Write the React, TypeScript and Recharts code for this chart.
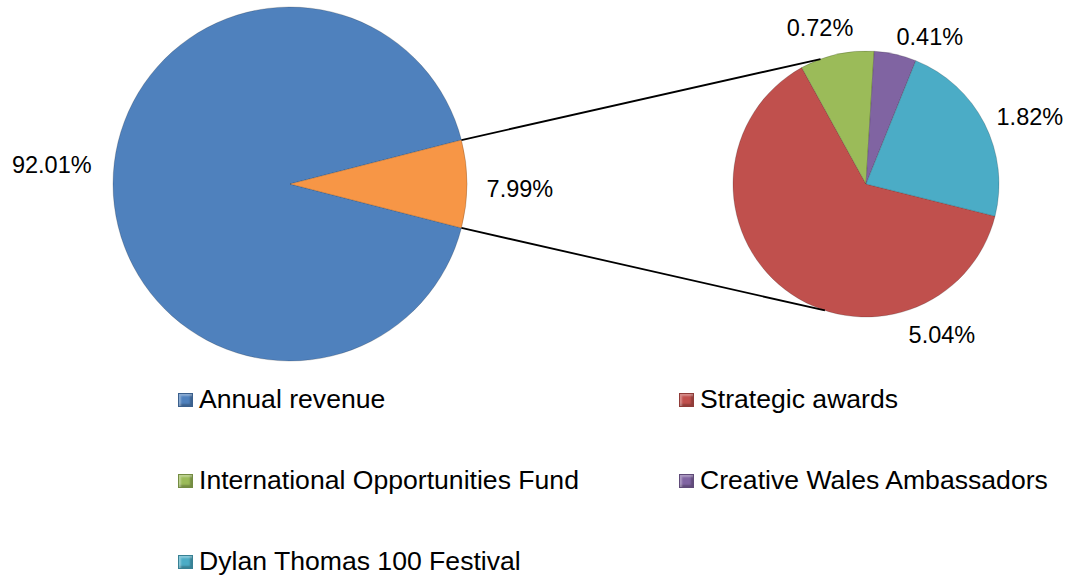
import React from "react";
import { PieChart, Pie, Cell, Legend } from "recharts";

// main pie
const MAIN_NAMES = ["Annual revenue", "Other"];
const MAIN_VALUES = [92.01, 7.99];
const MAIN_COLORS = ["#4F81BD", "#F79646"];

// secondary pie (breakdown of "Other")
const SUB_NAMES = ["Strategic awards", "International Opportunities Fund", "Creative Wales Ambassadors", "Dylan Thomas 100 Festival"];
const SUB_VALUES = [5.04, 0.72, 0.41, 1.82];
const SUB_COLORS = ["#C0504D", "#9BBB59", "#8064A2", "#4BACC6"];

const LEGEND_NAMES = ["Annual revenue", ...SUB_NAMES];
const LEGEND_COLORS = ["#4F81BD", ...SUB_COLORS];

// label placement around each pie: [angle deg, distance from centre]
const MAIN_LABEL_POS = [[175.4, 239], [-1.2, 230]];
const SUB_LABEL_POS = [[-63.3, 169], [106.4, 163], [66.5, 160], [22.2, 177]];

const FONT = "'Liberation Sans', Arial, sans-serif";
const RAD = Math.PI / 180;

const MAIN = { cx: 290, cy: 184, r: 177 };
const SUB = { cx: 866, cy: 184, r: 133, start: -14 };

const mainData = MAIN_NAMES.map((name, i) => ({ name, value: MAIN_VALUES[i] }));
const subData = SUB_NAMES.map((name, i) => ({ name, value: SUB_VALUES[i] }));

const otherHalf = (MAIN_VALUES[1] / MAIN_VALUES.reduce((a, b) => a + b, 0)) * 180;

const makeLabel = (pos: number[][], cx: number, cy: number) => (props: any) => {
  const [ang, dist] = pos[props.index];
  const x = cx + dist * Math.cos(ang * RAD);
  const y = cy - dist * Math.sin(ang * RAD);
  return (
    <text x={x} y={y} textAnchor="middle" dominantBaseline="central" fontSize={23.5} fontFamily={FONT} fill="#000">
      {props.value.toFixed(2)}%
    </text>
  );
};

function LegendBlock() {
  return (
    <div style={{ position: "relative", width: 1068, height: 200, fontFamily: FONT, fontSize: 26.6, color: "#000" }}>
      {LEGEND_NAMES.map((name, i) => {
        const col = i % 2;
        const row = Math.floor(i / 2);
        const left = col === 0 ? 178 : 679;
        const top = row * 81;
        return (
          <div key={name} style={{ position: "absolute", left, top, lineHeight: "30px", whiteSpace: "nowrap", display: "flex", alignItems: "center" }}>
            <span
              style={{
                display: "inline-block",
                width: 13,
                height: 12,
                marginRight: 6,
                marginTop: 1,
                background: LEGEND_COLORS[i],
                border: "1px solid rgba(0,0,0,0.25)",
                boxShadow: "inset 2px 2px 2px rgba(255,255,255,0.35), inset -2px -2px 2px rgba(0,0,0,0.25)",
              }}
            />
            {name}
          </div>
        );
      })}
    </div>
  );
}

export default function App() {
  const a1 = otherHalf * RAD;
  const p1 = { x: MAIN.cx + MAIN.r * Math.cos(a1), y: MAIN.cy - MAIN.r * Math.sin(a1) };
  const p2 = { x: MAIN.cx + MAIN.r * Math.cos(a1), y: MAIN.cy + MAIN.r * Math.sin(a1) };
  const q1 = { x: SUB.cx + SUB.r * Math.cos(110 * RAD), y: SUB.cy - SUB.r * Math.sin(110 * RAD) };
  const q2 = { x: SUB.cx + SUB.r * Math.cos(-108 * RAD), y: SUB.cy - SUB.r * Math.sin(-108 * RAD) };

  return (
    <div style={{ position: "absolute", left: 0, top: 0, width: 1068, height: 579, background: "#fff" }}>
      <PieChart width={1068} height={579} margin={{ top: 0, right: 0, bottom: 0, left: 0 }}>
        <Pie
          data={mainData}
          dataKey="value"
          nameKey="name"
          cx={MAIN.cx}
          cy={MAIN.cy}
          outerRadius={MAIN.r}
          startAngle={otherHalf}
          endAngle={otherHalf + 360}
          stroke="rgba(0,0,0,0.18)"
          strokeWidth={1}
          label={makeLabel(MAIN_LABEL_POS, MAIN.cx, MAIN.cy)}
          labelLine={false}
          isAnimationActive={false}
        >
          {mainData.map((d, i) => (
            <Cell key={d.name} fill={MAIN_COLORS[i]} />
          ))}
        </Pie>
        <Pie
          data={subData}
          dataKey="value"
          nameKey="name"
          cx={SUB.cx}
          cy={SUB.cy}
          outerRadius={SUB.r}
          startAngle={SUB.start}
          endAngle={SUB.start - 360}
          stroke="rgba(0,0,0,0.18)"
          strokeWidth={1}
          label={makeLabel(SUB_LABEL_POS, SUB.cx, SUB.cy)}
          labelLine={false}
          isAnimationActive={false}
        >
          {subData.map((d, i) => (
            <Cell key={d.name} fill={SUB_COLORS[i]} />
          ))}
        </Pie>
        <Legend content={() => <LegendBlock />} wrapperStyle={{ left: 0, top: 384, width: 1068 }} />
      </PieChart>
      <svg width={1068} height={579} style={{ position: "absolute", left: 0, top: 0, pointerEvents: "none" }}>
        <line x1={p1.x} y1={p1.y} x2={q1.x} y2={q1.y} stroke="#000" strokeWidth={1.8} />
        <line x1={p2.x} y1={p2.y} x2={q2.x} y2={q2.y} stroke="#000" strokeWidth={1.8} />
      </svg>
    </div>
  );
}
